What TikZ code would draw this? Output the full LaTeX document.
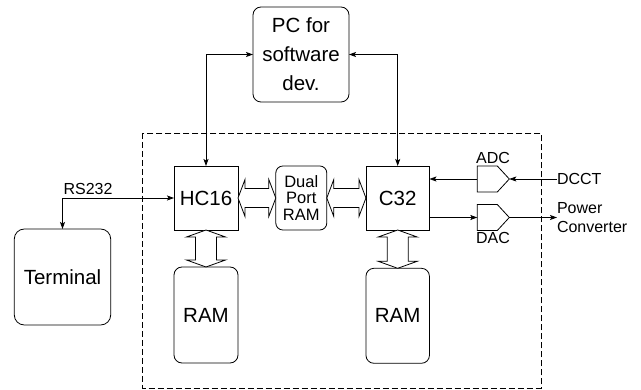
\documentclass[tikz,border=0pt]{standalone}
\usepackage{fontspec}
\setmainfont{Liberation Sans}
\usetikzlibrary{arrows.meta,calc}
\begin{document}
\begin{tikzpicture}[x=1pt,y=-1pt,
  line width=0.8pt,
  every node/.style={inner sep=0pt,outer sep=0pt},
  box/.style={draw,minimum width=64pt,minimum height=64pt,font=\fontsize{20.5}{24}\selectfont},
  rbox/.style={draw,rounded corners=8pt,align=center},
  lbl/.style={font=\fontsize{16}{19}\selectfont,align=left},
  arr/.style={-{Stealth[length=7pt,width=5pt,inset=1.5pt]}},
  darr/.style={{Stealth[length=7pt,width=5pt,inset=1.5pt]}-{Stealth[length=7pt,width=5pt,inset=1.5pt]}},
  blk/.style={draw,fill=white,line width=0.8pt},
  conv/.style={draw,line width=0.8pt}
]
\useasboundingbox (0,0) rectangle (641,390);

% dashed enclosure
\draw[dash pattern=on 6pt off 3pt] (142.7,133) rectangle (541,388);

% nodes
\node[rbox,minimum width=96pt,minimum height=95pt,font=\fontsize{20.5}{29}\selectfont] (pc) at (301,54.5) {PC for\\software\\dev.};
\node[box] (hc) at (206,198) {HC16};
\node[rbox,rounded corners=7pt,minimum width=51pt,minimum height=64pt,font=\fontsize{16.5}{16.5}\selectfont] (dp) at (301.3,198) {Dual\\Port\\RAM};
\node[box,minimum width=63.5pt] (c32) at (397.7,198) {C32};
\node[rbox,minimum width=64pt,minimum height=96pt,font=\fontsize{20.5}{24}\selectfont] (ram1) at (206,315) {RAM};
\node[rbox,minimum width=63.5pt,minimum height=95pt,font=\fontsize{20.5}{24}\selectfont] (ram2) at (397.7,315.8) {RAM};
\node[rbox,rounded corners=10pt,minimum width=96.4pt,minimum height=96pt,font=\fontsize{20.5}{24}\selectfont] (term) at (62.5,277) {Terminal};

% labels
\node[lbl] (rs) at (88,189) {RS232};
\node[lbl] (adclbl) at (493,158) {ADC};
\node[lbl] (daclbl) at (493,237.5) {DAC};
\node[lbl,anchor=west] (dcct) at (557,179) {DCCT};
\node[lbl,anchor=west] (pcv) at (557,217.5) {Power\\Converter};

% converters
\coordinate (adcL) at (477.3,179);
\coordinate (adcT) at (509.3,179);
\coordinate (dacL) at (477.3,217.5);
\coordinate (dacT) at (509.3,217.5);
\draw[conv] (adcT) -- ++(-12,-13) -- ++(-20,0) -- ++(0,26) -- ++(20,0) -- cycle;
\draw[conv] (dacT) -- ++(-12,-13) -- ++(-20,0) -- ++(0,26) -- ++(20,0) -- cycle;

% connectors
\draw[darr] (pc.west) -| (hc.north);
\draw[darr] (pc.east) -| (c32.north);
\draw[darr] (term.north) |- (hc.west);
\draw[arr] (dcct.west) -- (adcT);
\draw[arr] (adcL) -- (c32.east |- adcL);
\draw[arr] (c32.east |- dacL) -- (dacL);
\draw[arr] (dacT) -- (dacT -| pcv.west);

% block (bus) arrows, horizontal
\foreach \a/\b in {hc/dp,dp/c32}{
  \draw[blk] let \p1=(\a.east), \p2=(\b.west) in
    (\x1,\y1) -- (\x1+7pt,\y1+18.5pt) -- (\x1+7pt,\y1+9.5pt) -- (\x2-7pt,\y1+9.5pt)
    -- (\x2-7pt,\y1+18.5pt) -- (\x2,\y1) -- (\x2-7pt,\y1-18.5pt) -- (\x2-7pt,\y1-9.5pt)
    -- (\x1+7pt,\y1-9.5pt) -- (\x1+7pt,\y1-18.5pt) -- cycle;
}
% block (bus) arrows, vertical
\foreach \a/\b in {hc/ram1,c32/ram2}{
  \draw[blk] let \p1=(\a.south), \p2=(\b.north) in
    (\x1,\y1) -- (\x1+19.5pt,\y1-7pt) -- (\x1+10.5pt,\y1-7pt) -- (\x1+10.5pt,\y2+7pt)
    -- (\x1+19.5pt,\y2+7pt) -- (\x1,\y2) -- (\x1-19.5pt,\y2+7pt) -- (\x1-10.5pt,\y2+7pt)
    -- (\x1-10.5pt,\y1-7pt) -- (\x1-19.5pt,\y1-7pt) -- cycle;
}
\end{tikzpicture}
\end{document}
